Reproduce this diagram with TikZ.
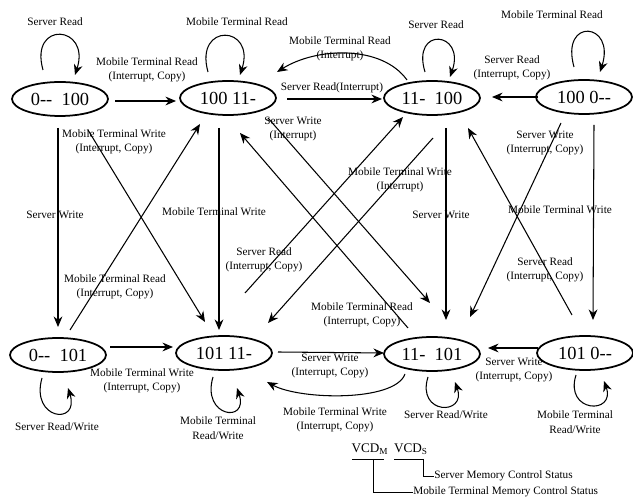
\documentclass[tikz,border=0pt]{standalone}
\usepackage{fontspec}
\setmainfont{Liberation Serif}
\usetikzlibrary{shapes.geometric,arrows.meta,calc}
\begin{document}
\begin{tikzpicture}[x=0.02cm,y=-0.02cm]
\tikzset{etat/.style={draw, ellipse, line width=1pt, minimum width=1.92cm, minimum height=0.68cm, inner sep=0pt, font=\fontsize{10.5}{12}\selectfont}}
\tikzset{etiq/.style={align=center, inner sep=0pt, font=\fontsize{6.4}{8.2}\selectfont}}
\tikzset{fl/.style={-{Stealth[length=6pt,width=5pt]}, line width=0.6pt}}
\useasboundingbox (0,0) rectangle (633,499);
\node[etat] (S1) at (60,99) {0-{}-\ \ 100};
\node[etat] (S2) at (228,98) {100\ 11-};
\node[etat] (S3) at (432,98) {11-\ \ 100};
\node[etat] (S4) at (584,97) {100\ 0-{}-};
\node[etat] (S5) at (58,355) {0-{}-\ \ 101};
\node[etat] (S6) at (224,353) {101\ 11-};
\node[etat] (S7) at (432,354) {11-\ \ 101};
\node[etat] (S8) at (585,353) {101\ 0-{}-};
\draw[fl] ($(S1)+(55,2)$) -- ($(S2)+(-52,3)$);
\draw[fl] ($(S2)+(59,1)$) -- ($(S3)+(-50,1)$);
\draw[fl] ($(S4)+(-46,0)$) -- ($(S3)+(60,-1)$);
\draw[fl] ($(S3)+(-25,-18)$) .. controls +(-25,-35) and +(40,-25) .. ($(S2)+(49,-26)$);
\draw[fl] ($(S2)+(-9,30)$) -- ($(S6)+(-5,-23)$);
\draw[fl] ($(S1)+(-2,29)$) -- ($(S5)+(0,-28)$);
\draw[fl] ($(S1)+(28,31)$) -- ($(S6)+(-19,-31)$);
\draw[fl] ($(S5)+(12,-25)$) -- ($(S2)+(-28,26)$);
\draw[fl] ($(S2)+(40,20)$) -- ($(S7)+(-2,-51)$);
\draw[fl] ($(S7)+(-24,-26)$) -- ($(S2)+(12,35)$);
\draw[fl] ($(S6)+(21,-60)$) -- ($(S3)+(-29,19)$);
\draw[fl] ($(S3)+(1,40)$) -- ($(S6)+(44,-30)$);
\draw[fl] ($(S3)+(14,30)$) -- ($(S7)+(14,-34)$);
\draw[fl] ($(S4)+(10,28)$) -- ($(S8)+(8,-33)$);
\draw[fl] ($(S4)+(-23,26)$) -- ($(S7)+(38,-37)$);
\draw[fl] ($(S8)+(-13,-38)$) -- ($(S3)+(36,30)$);
\draw[fl] ($(S5)+(52,-8)$) -- ($(S6)+(-51,-6)$);
\draw[fl] ($(S6)+(54,-1)$) -- ($(S7)+(-48,-1)$);
\draw[fl] ($(S8)+(-47,-5)$) -- ($(S7)+(56,-6)$);
\draw[fl] ($(S7)+(-27,20)$) .. controls +(-10,28) and +(33,18) .. ($(S6)+(43,29)$);
\draw[fl] ($(S1)+(-17,-29)$) .. controls +(-14,-50) and +(16,-50) .. ($(S1)+(15,-24)$);
\draw[fl] ($(S2)+(-20,-26)$) .. controls +(-14,-50) and +(16,-50) .. ($(S2)+(12,-23)$);
\draw[fl] ($(S3)+(-7,-26)$) .. controls +(-14,-46) and +(16,-46) .. ($(S3)+(18,-21)$);
\draw[fl] ($(S4)+(-10,-30)$) .. controls +(-14,-50) and +(16,-50) .. ($(S4)+(16,-25)$);
\draw[fl] ($(S5)+(-16,23)$) .. controls +(-12,42) and +(12,38) .. ($(S5)+(10,33)$);
\draw[fl] ($(S6)+(-11,24)$) .. controls +(-12,40) and +(12,36) .. ($(S6)+(13,35)$);
\draw[fl] ($(S7)+(-4,23)$) .. controls +(-12,38) and +(12,34) .. ($(S7)+(23,28)$);
\draw[fl] ($(S8)+(-9,22)$) .. controls +(-12,38) and +(12,34) .. ($(S8)+(19,28)$);
\node[etiq] (L1) at (55,22) {Server Read};
\node[etiq] (L2) at (237,22) {Mobile Terminal Read};
\node[etiq] (L3) at (436,25) {Server Read};
\node[etiq] (L4) at (552,15) {Mobile Terminal Read};
\node[etiq] (L5) at (147,70) {Mobile Terminal Read\\(Interrupt, Copy)};
\node[etiq] (L6) at (340,49) {Mobile Terminal Read\\(Interrupt)};
\node[etiq] (L7) at (332,88) {Server Read(Interrupt)};
\node[etiq] (L8) at (512,68) {Server Read\\(Interrupt, Copy)};
\node[etiq] (L9) at (293,129) {Server Write\\(Interrupt)};
\node[etiq] (L10) at (114,142) {Mobile Terminal Write\\(Interrupt, Copy)};
\node[etiq] (L11) at (545,143) {Server Write\\(Interrupt, Copy)};
\node[etiq] (L12) at (400,180) {Mobile Terminal Write\\(Interrupt)};
\node[etiq] (L13) at (55,215) {Server Write};
\node[etiq] (L14) at (214,212) {Mobile Terminal Write};
\node[etiq] (L15) at (441,215) {Server Write};
\node[etiq] (L16) at (560,210) {Mobile Terminal Write};
\node[etiq] (L17) at (264,260) {Server Read\\(Interrupt, Copy)};
\node[etiq] (L18) at (545,270) {Server Read\\(Interrupt, Copy)};
\node[etiq] (L19) at (115,287) {Mobile Terminal Read\\(Interrupt, Copy)};
\node[etiq] (L20) at (362,315) {Mobile Terminal Read\\(Interrupt, Copy)};
\node[etiq] (L21) at (142,381) {Mobile Terminal Write\\(Interrupt, Copy)};
\node[etiq] (L22) at (330,366) {Server Write\\(Interrupt, Copy)};
\node[etiq] (L23) at (514,370) {Server Write\\(Interrupt, Copy)};
\node[etiq] (L24) at (335,420) {Mobile Terminal Write\\(Interrupt, Copy)};
\node[etiq] (L25) at (57,427) {Server Read/Write};
\node[etiq] (L26) at (218,428) {Mobile Terminal\\Read/Write};
\node[etiq] (L27) at (446,415) {Server Read/Write};
\node[etiq] (L28) at (575,422) {Mobile Terminal\\Read/Write};
\node[inner sep=0pt, font=\fontsize{7.5}{9}\selectfont] (VM) at (370,449) {VCD\textsubscript{M}};
\node[inner sep=0pt, font=\fontsize{7.5}{9}\selectfont] (VS) at (411,449) {VCD\textsubscript{S}};
\node[etiq, anchor=west] (L29) at (434,476) {Server Memory Control Status};
\node[etiq, anchor=west] (L30) at (413,492) {Mobile Terminal Memory Control Status};
\draw ($(VM)+(-18,10)$) -- ($(VM)+(14,10)$);
\draw ($(VS)+(-17,10)$) -- ($(VS)+(12,10)$);
\draw ($(VM)+(3,10)$) |- (L30.west);
\draw ($(VS)+(12,10)$) |- (L29.west);
\end{tikzpicture}
\end{document}
